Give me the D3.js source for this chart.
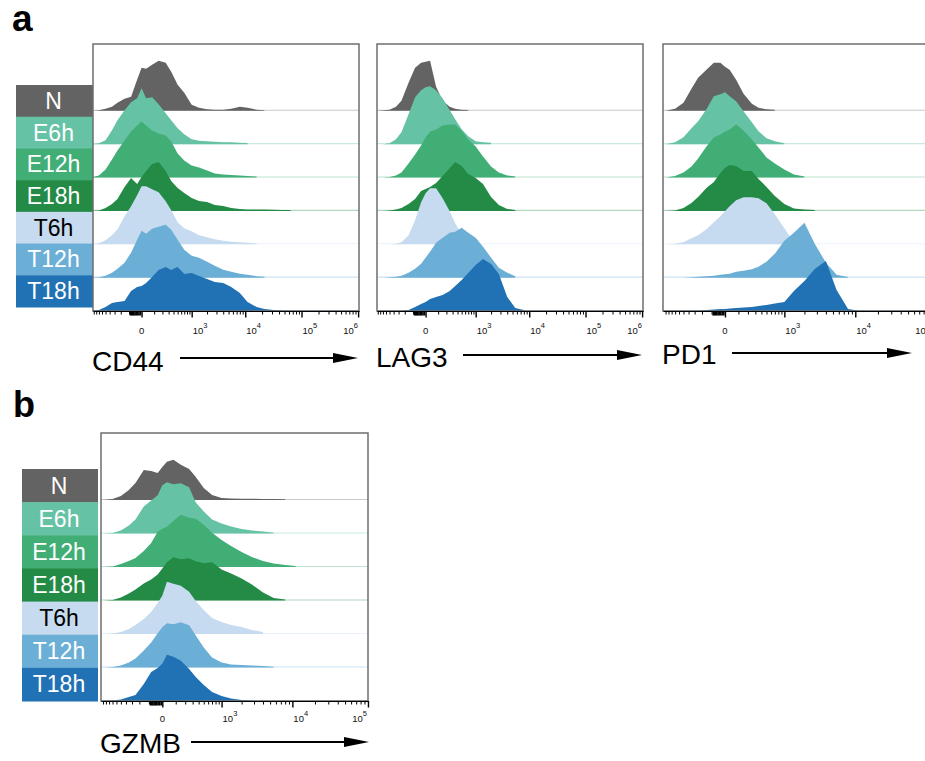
<!DOCTYPE html>
<html>
<head>
<meta charset="utf-8">
<script src="https://cdn.jsdelivr.net/npm/d3@7"></script>
<style>
  body { margin: 0; background: #fff; }
  svg { display: block; }
</style>
</head>
<body>
<svg id="fig" width="925" height="761"></svg>
<script>
// sample groups (top to bottom) and their colours
const groups = ['N', 'E6h', 'E12h', 'E18h', 'T6h', 'T12h', 'T18h'];
const groupColors = ['#636363', '#66c2a4', '#41ae76', '#238b45', '#c6dbef', '#6baed6', '#2171b5'];
const labelInk = ['#fff', '#fff', '#fff', '#fff', '#000', '#fff', '#fff'];

// histogram bin positions (fluorescence units, biexponential display)
const bins = [-1000, -700, -500, -350, -250, -150, -80, -30, 0, 30, 80, 150, 250, 350, 500, 700,
  1000, 1400, 2000, 2800, 4000, 5600, 8000, 11000, 16000, 22000, 32000, 45000, 64000, 90000,
  130000, 180000, 260000, 370000, 520000, 740000, 1000000];

// normalized counts per bin, one row per group (N ... T18h)
const cd44 = [
  [0, 0.5, 2, 4, 8, 12, 14, 31, 43, 42, 46, 50, 48, 39, 26, 18, 6, 3, 1.5, 1, 1, 2, 4, 3, 1, 0.5],
  [0, 1, 4, 14, 24, 34, 42, 46, 56, 46, 47, 40, 31, 24, 16, 10, 5, 3.5, 3, 2.5, 2, 2, 1.5, 1.2],
  [0, 2, 8, 18, 27, 37, 46, 52, 56, 52, 47, 44, 42, 36, 24, 17, 12, 10, 7, 4, 3, 2.5, 2, 1.5, 1],
  [0, 0.5, 3, 7, 12, 24, 33, 27, 34, 40, 47, 49, 40, 30, 23, 18, 13, 10, 9, 6, 5, 3, 2, 1.5, 1.5, 1.3, 1.2, 1, 0.8],
  [0, 1, 4, 9, 15, 28, 38, 49, 58, 58, 55, 52, 43, 34, 22, 16, 13, 9, 7, 5, 3.5, 2.5, 2, 1.5, 0.8],
  [0, 0.5, 2, 5, 9, 15, 25, 38, 47, 44, 49, 51, 53, 48, 38, 28, 22, 20, 16, 12, 8, 6, 4, 3, 1.5, 1],
  [0, 1, 4, 8, 9, 10, 20, 24, 25, 28, 34, 41, 44, 41, 44, 37, 38, 35, 32, 29, 28, 24, 18, 9, 4, 2, 1, 0.5]
];
const lag3 = [
  [0, 0.5, 1, 4, 10, 28, 43, 48, 49, 50, 24, 10, 4, 2, 1, 0.7],
  [0, 0, 1, 5, 12, 30, 47, 54, 57, 58, 54, 46, 34, 25, 15, 8, 3, 2, 1.5],
  [0, 0, 0.5, 2, 5, 14, 23, 32, 40, 46, 48, 52, 53, 53, 47, 38, 31, 21, 11, 5, 2, 1],
  [0, 0, 0.5, 1.5, 3, 7, 12, 20, 22, 24, 28, 35, 43, 49, 45, 37, 33, 27, 14, 6, 2, 1],
  [0, 0, 0, 0.5, 2, 9, 24, 42, 51, 56, 56, 46, 33, 21, 10, 3, 1],
  [0, 0, 0.5, 1, 2, 5, 9, 14, 20, 26, 35, 40, 45, 46, 50, 45, 40, 31, 20, 10, 5, 1.5],
  [0, 0, 0, 0, 0, 1, 4, 7, 9, 12, 14, 16, 20, 25, 31, 38, 46, 52, 47, 37, 14, 3, 1]
];
const pd1 = [
  [0, 2, 8, 22, 33, 41, 48, 48, 44, 41, 31, 17, 7, 3, 1.5, 1],
  [0, 2, 7, 16, 23, 35, 48, 50, 52, 48, 43, 33, 22, 13, 6, 3, 1],
  [0, 1.5, 5, 11, 19, 31, 40, 43, 46, 48, 53, 47, 38, 30, 20, 14, 8, 3, 1],
  [0, 0.5, 3, 8, 14, 23, 29, 38, 43, 46, 45, 40, 40, 32, 24, 15, 7, 2.5, 1.5, 1],
  [0, 0.5, 2, 6, 9, 15, 22, 28, 33, 38, 44, 47, 47, 46, 41, 30, 16, 2, 0.7],
  [0, 0, 0, 0.5, 1, 1.5, 2, 3, 3.5, 4, 6, 7, 8.5, 11, 16, 24, 37, 45, 55, 34, 15, 3, 0.7],
  [0, 0, 0, 0, 0, 1, 1.5, 2, 2, 2.5, 3, 3.5, 4, 5, 6, 7.5, 9, 20, 30, 42, 50, 21, 2, 0.3]
];
const gzmb = [
  [0, 1, 4, 10, 17, 30, 29, 27, 33, 38, 40, 35, 31, 23, 12, 5, 2, 1.5, 1.2, 1.2, 1, 1, 0.7],
  [0, 0.5, 3, 8, 14, 27, 33, 38, 48, 51, 49, 50, 46, 31, 22, 14, 10, 7, 4.5, 3, 2, 0.8],
  [0, 0.5, 3, 6, 9, 16, 24, 35, 38, 40, 46, 52, 49, 48, 42, 34, 27, 21, 15, 10, 6, 3.5, 2, 1],
  [0, 0.5, 3, 7, 11, 17, 21, 26, 32, 38, 43, 41, 42, 39, 37, 38, 31, 27, 22, 16, 8, 2.5, 1],
  [0, 0.5, 2, 5, 9, 15, 22, 31, 38, 52, 50, 48, 42, 33, 24, 16, 12, 9, 7, 4, 2],
  [0, 0.5, 2, 5, 9, 17, 25, 34, 40, 44, 43, 45, 42, 32, 20, 10, 5, 3, 2.5, 2, 1.5, 0.8],
  [0, 0.5, 1.5, 4, 6, 17, 29, 33, 37, 46, 44, 40, 32, 24, 16, 9, 5, 2.5, 1, 0.3]
];

// axis tick labels
const majorTicks = [0, 1e3, 1e4, 1e5, 1e6];
const majorExp = ['', '3', '4', '5', '6'];

// layout of the four histogram panels
const panels = [
  { title: 'CD44', data: cd44, c: 150, domain: [-932, 1.037e6], left: 93, right: 359, top: 44, bottom: 311,
    boxes: { x: 16, w: 77, top: 85, bottom: 307 }, titleY: 371, arrow: [180, 358, 358], labelY: 334 },
  { title: 'LAG3', data: lag3, c: 150, domain: [-932, 1.037e6], left: 377, right: 643, top: 44, bottom: 311,
    titleY: 367, arrow: [463, 642, 355], labelY: 334 },
  { title: 'PD1', data: pd1, c: 200, domain: [-1098, 1e5], left: 663, right: 931, top: 44, bottom: 311,
    titleY: 364, arrow: [732, 912, 353], labelY: 334 },
  { title: 'GZMB', data: gzmb, c: 200, domain: [-1076, 100140], left: 101, right: 368, top: 433, bottom: 701,
    boxes: { x: 22, w: 76, top: 469, bottom: 701 }, titleY: 753, arrow: [191, 369, 742], labelY: 722 }
];

const font = '"Liberation Sans", Arial, Helvetica, sans-serif';
const svg = d3.select('#fig').style('font-family', font);

// minor ticks of a biexponential axis
const minorTicks = [];
for (let m = 1; m <= 10; m++) minorTicks.push(-m * 100);
[100, 1e3, 1e4, 1e5].forEach(d => {
  for (let m = 1; m <= 9; m++) if (!(m === 1 && d > 100)) minorTicks.push(m * d);
});
// dense ticks right below zero
const nearZeroTicks = [];
for (let m = 1; m <= 9; m++) nearZeroTicks.push(-m * 10);

panels.forEach((p, pi) => {
  const H = p.bottom - p.top;
  const x = d3.scaleSymlog().constant(p.c).domain(p.domain).range([p.left, p.right]);
  const base = d3.scalePoint().domain(groups).range([p.top + H * 2 / 8, p.bottom]);
  const h = d3.scaleLinear().domain([0, 60]).range([0, 60 * H / 267]);
  const inDomain = v => v >= p.domain[0] && v <= p.domain[1];

  // sample label boxes
  if (p.boxes) {
    const band = d3.scaleBand().domain(groups).range([p.boxes.top, p.boxes.bottom]);
    groups.forEach((grp, i) => {
      svg.append('rect')
        .attr('x', p.boxes.x).attr('y', band(grp))
        .attr('width', p.boxes.w).attr('height', band.bandwidth() + 0.5)
        .attr('fill', groupColors[i]);
      svg.append('text')
        .attr('x', p.boxes.x + p.boxes.w / 2 - 1)
        .attr('y', band(grp) + band.bandwidth() / 2 + 8)
        .attr('text-anchor', 'middle')
        .attr('font-size', 23)
        .attr('fill', labelInk[i])
        .text(grp);
    });
  }

  // white plot area + clip
  svg.append('rect').attr('x', p.left).attr('y', p.top)
    .attr('width', p.right - p.left).attr('height', H).attr('fill', '#fff');
  svg.append('clipPath').attr('id', 'clip' + pi)
    .append('rect').attr('x', p.left).attr('y', p.top)
    .attr('width', p.right - p.left).attr('height', H);
  const g = svg.append('g').attr('clip-path', `url(#clip${pi})`);

  groups.forEach((grp, i) => {
    const y0 = base(grp);
    // faint event tail along the baseline
    g.append('line')
      .attr('x1', p.left).attr('x2', p.right).attr('y1', y0 - 0.5).attr('y2', y0 - 0.5)
      .attr('stroke', groupColors[i]).attr('stroke-opacity', 0.35).attr('stroke-width', 1.2);
    const area = d3.area()
      .x((d, j) => x(bins[j]))
      .y0(y0)
      .y1(d => y0 - h(d));
    g.append('path').datum(p.data[i]).attr('d', area).attr('fill', groupColors[i]);
  });

  // frame
  svg.append('rect').attr('x', p.left).attr('y', p.top)
    .attr('width', p.right - p.left).attr('height', H)
    .attr('fill', 'none').attr('stroke', '#6e6e6e').attr('stroke-width', 1.5);

  // axis
  const ax = svg.append('g').attr('transform', `translate(0,${p.bottom})`);
  ax.call(d3.axisBottom(x).tickValues(minorTicks.filter(inDomain))
    .tickSize(3.5).tickSizeOuter(0).tickFormat(''));
  ax.select('.domain').attr('stroke', '#000').attr('stroke-width', 1.2);
  const axZero = svg.append('g').attr('transform', `translate(0,${p.bottom})`);
  axZero.call(d3.axisBottom(x).tickValues(nearZeroTicks).tickSize(4.5).tickFormat(''));
  axZero.select('.domain').remove();
  axZero.selectAll('.tick line').attr('stroke-width', 1.6);
  const axMajor = svg.append('g').attr('transform', `translate(0,${p.bottom})`);
  axMajor.call(d3.axisBottom(x).tickValues(majorTicks.filter(inDomain))
    .tickSize(6.5).tickFormat(''));
  axMajor.select('.domain').remove();
  axMajor.selectAll('.tick line').attr('stroke-width', 1.4);

  majorTicks.forEach((v, k) => {
    if (!inDomain(v)) return;
    const t = svg.append('text').attr('y', p.labelY).attr('font-size', 9.5).attr('fill', '#111');
    if (!majorExp[k]) {
      t.attr('x', x(v)).attr('text-anchor', 'middle').text('0');
      return;
    }
    if (x(v) + 16 > p.right) {
      t.attr('x', Math.min(x(v) + 1, p.right) - 1).attr('text-anchor', 'end');
    } else {
      t.attr('x', x(v) + 1).attr('text-anchor', 'start');
    }
    t.append('tspan').text('10');
    t.append('tspan').attr('dy', -6.5).attr('font-size', 7.5).text(majorExp[k]);
  });

  // axis title with arrow
  svg.append('text').attr('x', p.left - 1).attr('y', p.titleY)
    .attr('font-size', 28).attr('fill', '#000').text(p.title);
  const [ax1, ax2, ay] = p.arrow;
  svg.append('line').attr('x1', ax1).attr('x2', ax2 - 20).attr('y1', ay).attr('y2', ay)
    .attr('stroke', '#000').attr('stroke-width', 2.2);
  svg.append('path')
    .attr('d', `M${ax2 - 25},${ay - 5}L${ax2},${ay}L${ax2 - 25},${ay + 5}Z`)
    .attr('fill', '#000');
});

// panel letters
svg.append('text').attr('x', 12).attr('y', 31).attr('font-size', 37).attr('font-weight', 'bold').text('a');
svg.append('text').attr('x', 13).attr('y', 417).attr('font-size', 36).attr('font-weight', 'bold').text('b');
</script>
</body>
</html>
